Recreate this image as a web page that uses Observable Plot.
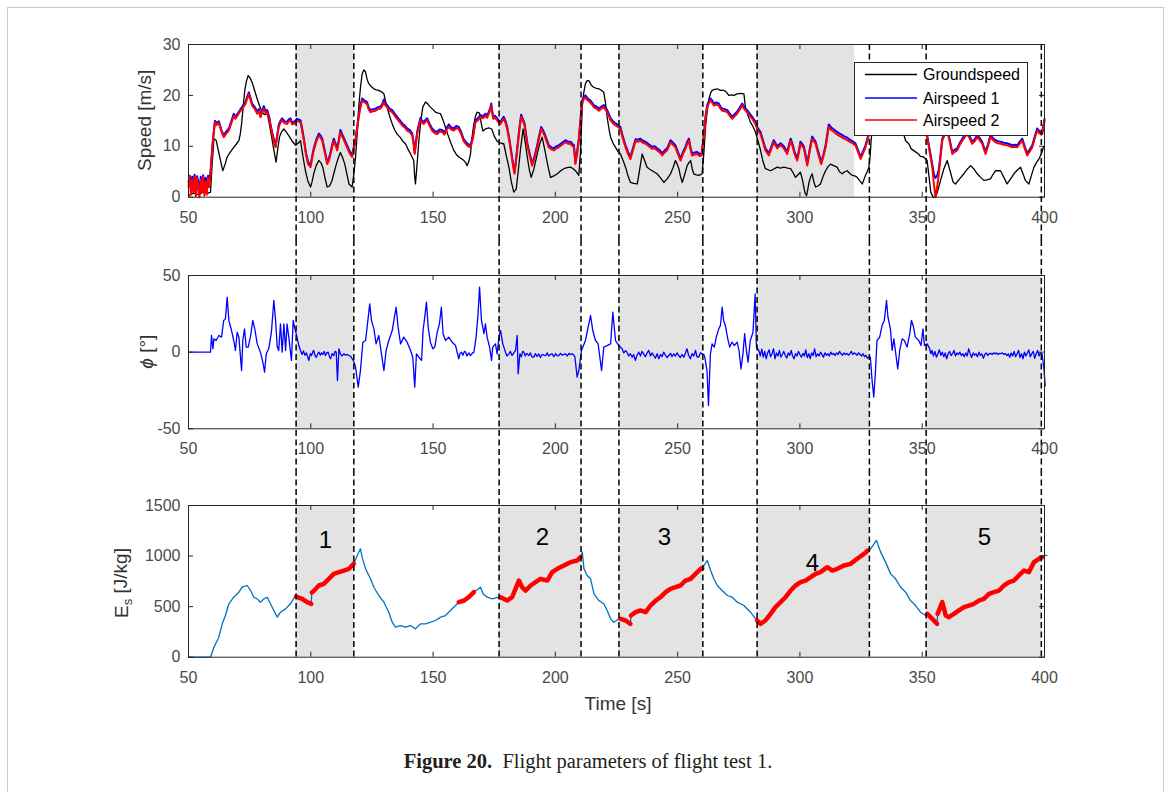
<!DOCTYPE html>
<html><head><meta charset="utf-8">
<script src="https://cdn.jsdelivr.net/npm/d3@7"></script>
<script src="https://cdn.jsdelivr.net/npm/@observablehq/plot@0.6"></script>
<style>
body{margin:0;background:#fff;}
#page{position:relative;width:1170px;height:792px;overflow:hidden;background:#fff;font-family:"Liberation Sans",Arial,sans-serif;}
.panel{position:absolute;left:0;}
#border{position:absolute;left:7px;top:7px;width:1155px;height:820px;border:1px solid #c9c9c9;}
#legend{position:absolute;left:854px;top:62px;}
#caption{position:absolute;left:0;top:750px;width:1176px;text-align:center;font-family:"Liberation Serif","Times New Roman",serif;font-size:20.5px;color:#231f20;white-space:nowrap;}
</style></head><body>
<div id="page">
  <div id="border"></div>
  <div id="p1" class="panel" style="top:0px"></div>
  <div id="p2" class="panel" style="top:240px"></div>
  <div id="p3" class="panel" style="top:470px"></div>
  <svg id="legend" width="174" height="74"></svg>
  <div id="caption"><b>Figure 20.</b>&nbsp; Flight parameters of flight test 1.</div>
</div>
<script>
// ---------- scales / ticks ----------
const xDomain = [50, 400];
const xTicks = [50, 100, 150, 200, 250, 300, 350, 400];
const speedDomain = [0, 30], speedTicks = [0, 10, 20, 30];
const rollDomain = [-50, 50], rollTicks = [-50, 0, 50];
const energyDomain = [0, 1500], energyTicks = [0, 500, 1000, 1500];

// ---------- manoeuvre intervals ----------
const eventStart = [94, 177, 226, 282.5, 351.6];
const eventEnd = [117.6, 210.5, 260.3, 328.4, 398.7];
const speedShadeStart = [94, 177, 226, 282.5];
const speedShadeEnd = [117.6, 210.5, 260.3, 322.3];
const segmentNumbers = ["1", "2", "3", "4", "5"];
const segmentLabelTime = [106, 194.7, 244.6, 305.1, 375.4];
const segmentLabelEnergy = [1154, 1184, 1184, 927, 1184];

// ---------- legend ----------
const seriesNames = ["Groundspeed", "Airspeed 1", "Airspeed 2"];
const seriesColors = ["#000000", "#0000ff", "#ff0000"];

// ---------- speed [m/s] ----------
const groundspeed = [[50,0.3],[52,0.8],[54,0.5],[56,1.0],[58,0.8],[59,1.0],[59.6,6.0],[60.4,11.5],[61.3,11.2],[62.5,8.5],[64.0,5.2],[65.0,6.5],[65.8,7.9],[67.0,8.8],[68.5,9.8],[69.5,10.4],[70.6,11.1],[71.2,12.5],[71.7,14.4],[72.4,18.0],[73.0,21.0],[73.7,22.8],[74.4,23.9],[75.2,23.4],[76.0,22.6],[77.0,21.0],[78.1,19.3],[79.0,18.0],[80.1,16.7],[81.2,16.2],[82.2,16.4],[83.0,14.5],[84.0,11.8],[85.0,9.0],[85.8,6.9],[86.5,9.5],[87.2,11.8],[88.0,12.8],[89.0,13.4],[90.0,12.8],[91.0,12.1],[92.4,11.0],[93.8,10.2],[94.8,10.6],[95.8,11.1],[96.8,8.0],[97.8,5.2],[98.8,3.2],[99.9,2.0],[100.5,3.0],[101.2,4.6],[102.2,6.2],[103.3,7.2],[104.1,6.8],[104.9,5.9],[105.8,3.8],[106.7,2.0],[107.7,2.2],[108.7,3.3],[109.4,4.6],[110.1,5.9],[111.1,7.5],[112.1,8.8],[113.0,7.8],[113.9,6.5],[114.8,4.5],[115.6,2.6],[116.9,2.0],[117.6,4.5],[118.3,7.9],[119.0,12.5],[119.6,17.7],[120.3,21.5],[121.0,24.2],[121.7,25.0],[122.4,24.6],[123.0,23.2],[123.7,22.3],[124.8,21.7],[125.8,21.3],[126.8,21.1],[127.8,21.0],[128.9,20.7],[129.9,20.3],[130.5,19.0],[131.2,17.7],[132.2,16.0],[133.3,14.4],[134.3,13.2],[135.3,12.4],[136.5,11.8],[137.6,11.0],[138.7,10.5],[139.8,9.4],[140.8,8.5],[141.5,7.8],[142.1,7.2],[142.5,4.0],[142.8,2.6],[143.3,5.5],[144.2,11.1],[145.0,15.0],[145.8,17.7],[146.9,18.7],[147.9,18.3],[148.9,17.7],[150.0,17.2],[151.0,16.7],[152.0,16.5],[153.0,16.4],[153.7,15.6],[154.4,14.7],[155.4,13.2],[156.4,11.8],[157.4,10.5],[158.5,9.2],[159.5,8.4],[160.5,7.9],[161.5,7.6],[162.6,7.2],[163.3,6.8],[163.9,6.2],[164.6,7.0],[165.3,8.5],[166.0,12.0],[166.7,14.4],[167.4,16.0],[168.0,16.7],[169.0,16.5],[169.7,14.5],[170.4,13.0],[171.4,13.4],[172.8,13.6],[174.0,13.4],[175.0,12.0],[176.2,11.0],[176.9,10.8],[177.8,10.6],[178.9,10.5],[180.0,8.0],[181.0,5.9],[182.0,3.0],[183.0,1.0],[184.0,1.6],[184.8,5.0],[185.7,9.2],[186.8,13.4],[187.6,11.0],[188.5,8.0],[189.3,5.5],[190.1,3.9],[191.2,5.5],[192.6,8.5],[193.6,10.5],[194.6,11.8],[195.6,9.5],[196.8,6.5],[198.0,3.9],[199.4,4.2],[200.8,4.6],[202.2,5.2],[203.5,5.6],[204.8,5.8],[206.2,5.9],[207.3,5.6],[208.2,5.2],[209.6,4.3],[210.3,9.0],[211.0,17.7],[211.6,20.5],[212.3,22.3],[213.0,22.9],[213.7,22.9],[214.7,22.0],[215.7,21.6],[216.8,21.4],[217.8,21.3],[218.8,21.0],[219.8,20.6],[220.5,18.5],[221.2,15.7],[222.0,13.2],[222.6,11.8],[223.6,10.6],[224.6,9.8],[225.6,9.0],[226.6,8.5],[227.7,7.2],[228.7,5.9],[229.7,4.2],[230.7,2.9],[232.0,2.7],[233.5,2.6],[234.5,5.5],[235.5,8.5],[236.5,7.2],[237.5,5.9],[238.6,5.5],[239.6,5.2],[240.6,4.9],[241.6,4.6],[243.0,3.8],[244.4,2.9],[245.7,3.6],[247.1,4.6],[248.1,5.8],[249.1,7.2],[249.8,6.5],[250.5,5.6],[251.2,4.0],[251.9,2.9],[252.9,4.5],[253.9,6.2],[254.6,6.8],[255.3,7.2],[256.0,5.5],[256.6,4.6],[257.6,4.4],[258.7,4.3],[260.0,4.6],[260.7,8.5],[261.4,13.8],[262.1,17.0],[262.8,19.3],[263.5,20.5],[264.1,21.0],[265.2,21.2],[266.2,21.3],[267.5,21.0],[268.9,21.0],[270.0,20.6],[270.9,20.0],[272.0,20.1],[273.0,20.0],[274.3,20.3],[275.7,20.4],[277.1,20.3],[277.7,17.7],[278.8,16.0],[279.8,14.7],[280.8,13.9],[281.8,12.8],[282.9,11.0],[283.9,9.2],[284.9,7.0],[285.9,5.6],[288.0,5.2],[290.7,5.9],[292.0,5.7],[293.4,5.9],[295.0,5.7],[296.2,5.6],[297.2,4.8],[298.2,3.9],[299.2,4.4],[300.2,4.9],[301.0,3.5],[301.6,2.0],[302.1,0.8],[302.7,0.3],[303.2,1.5],[303.7,2.9],[304.4,4.0],[305.0,4.6],[305.7,3.0],[306.4,2.0],[307.4,2.2],[308.4,2.6],[309.4,4.0],[310.5,5.2],[311.5,6.0],[312.5,6.5],[313.8,6.2],[315.2,5.9],[316.2,5.0],[317.3,4.6],[318.3,5.0],[319.3,5.2],[320.3,4.7],[321.4,4.3],[322.4,4.2],[323.4,3.9],[324.5,3.2],[325.5,2.6],[326.2,3.5],[326.8,4.3],[327.5,5.0],[328.2,5.9],[328.7,8.0],[329.1,11.1],[330.0,15.7],[331,18.0],[333,19.5],[336,19.0],[339,17.0],[341.5,14.0],[343.2,11.1],[344.5,10.5],[345.5,9.5],[347.0,9.0],[348.5,8.5],[349.3,8.0],[350.6,7.9],[352.0,7.2],[352.8,4.0],[353.5,1.0],[354.5,0.0],[355.5,0.0],[356.5,1.5],[357.5,3.3],[358.8,5.5],[360.2,7.2],[361.5,5.0],[362.6,3.0],[363.6,2.6],[365.3,3.6],[367.0,4.6],[368.4,5.5],[369.8,6.2],[371.2,5.5],[372.5,4.6],[373.9,3.9],[375.2,3.3],[376.5,3.4],[377.9,3.6],[379.0,4.5],[380.0,5.2],[382.0,5.2],[383.4,3.9],[384.7,2.6],[386.0,3.5],[387.5,4.6],[388.8,5.3],[390.2,5.9],[391.2,4.6],[392.2,3.3],[393.6,2.6],[394.6,4.2],[395.7,5.9],[396.7,6.8],[397.7,7.5],[398.7,8.5],[399.7,10.0]];

const airspeed1 = [[50,3.0],[50.5,4.2],[51,2.4],[51.5,4.0],[52,2.8],[52.5,4.4],[53,1.6],[53.5,4.1],[54,3.0],[54.5,0.6],[55,4.0],[55.5,2.6],[56,4.3],[56.5,2.0],[57,3.8],[57.5,2.2],[58,4.2],[58.5,3.2],[59,5.0],[60,11.4],[60.8,15.0],[61.5,14.6],[62.4,14.9],[63.4,13.3],[64.4,12.1],[65.4,12.9],[66.5,13.5],[67.5,14.9],[68.5,16.4],[69.2,15.8],[69.9,16.3],[70.6,16.8],[71.3,17.3],[72.3,18.0],[73.3,18.7],[74.0,19.8],[74.7,20.6],[75.3,19.6],[76.0,18.4],[77.0,17.8],[78.1,16.8],[78.8,17.3],[79.4,16.1],[80.1,17.0],[80.8,17.9],[81.5,16.9],[82.2,17.1],[83.0,15.8],[83.5,14.4],[84.5,12.1],[85.6,10.1],[86.3,12.3],[86.9,14.2],[87.6,15.0],[88.3,15.5],[89.3,14.9],[90.3,14.8],[91.0,15.3],[91.7,15.5],[92.4,14.7],[93.1,14.8],[94.4,15.4],[95.8,15.1],[96.5,13.4],[97.2,11.4],[98.0,8.8],[98.9,6.9],[99.9,6.3],[100.5,7.9],[101.2,9.6],[102.3,11.4],[103.3,12.5],[104.0,12.1],[104.7,11.5],[105.7,9.2],[106.7,6.9],[107.4,7.6],[108.1,8.9],[108.8,10.4],[109.4,11.5],[110.1,10.6],[110.8,9.6],[111.5,11.4],[112.1,13.2],[113.0,12.2],[114.2,10.9],[115.0,10.0],[116.0,8.9],[116.9,8.3],[117.6,9.9],[118.3,11.5],[119.0,13.9],[119.6,16.1],[120.3,18.0],[121.0,19.4],[122.0,19.0],[123.0,18.7],[123.7,17.6],[124.4,17.1],[125.5,17.3],[126.5,17.4],[127.5,17.7],[128.5,17.8],[129.2,18.3],[129.9,19.2],[130.5,18.4],[131.2,18.1],[132.2,17.4],[133.3,17.1],[134.3,16.4],[135.3,15.8],[136.3,15.2],[137.4,14.5],[138.4,14.1],[139.4,13.5],[140.5,13.2],[141.5,12.5],[142.0,10.9],[142.5,8.9],[143.0,10.9],[143.5,12.8],[144.2,14.4],[144.9,15.6],[145.5,15.0],[146.2,14.8],[146.9,15.2],[147.6,15.5],[148.6,14.4],[149.6,13.5],[150.6,13.0],[151.7,12.8],[152.7,13.3],[153.7,13.2],[154.7,12.7],[155.5,13.6],[156.4,14.3],[157.4,13.7],[158.5,13.5],[159.5,14.0],[160.5,13.8],[161.5,12.8],[162.5,11.4],[163.3,10.9],[164.3,10.4],[165.3,10.2],[166.3,11.9],[167.3,15.1],[168.3,15.5],[169.4,16.1],[170.4,15.9],[171.4,16.4],[172.1,16.0],[172.8,16.8],[173.3,17.4],[173.8,18.4],[174.2,16.9],[174.6,15.8],[175.4,16.0],[176.2,15.5],[176.9,15.0],[177.6,14.8],[178.3,15.4],[178.9,15.8],[179.6,15.0],[180.3,13.8],[181.2,11.4],[182.0,8.9],[182.7,6.6],[183.3,5.0],[183.8,6.9],[184.4,9.6],[185.2,13.2],[186.0,16.2],[186.7,15.4],[187.4,14.5],[188.0,12.4],[188.7,10.2],[189.6,8.4],[190.5,6.6],[191.4,7.9],[192.3,9.6],[193.2,11.7],[194.2,13.8],[194.9,13.2],[195.6,12.5],[196.4,11.4],[197.3,10.2],[198.4,9.8],[199.4,9.6],[200.4,10.0],[201.4,10.2],[202.7,10.7],[204.1,11.2],[205.1,10.9],[206.2,10.9],[206.9,10.5],[207.6,10.2],[208.2,6.9],[208.9,8.9],[209.6,11.5],[210.3,15.4],[211.0,19.1],[211.6,19.6],[212.3,20.0],[213.2,19.4],[214.1,19.1],[215.0,18.6],[215.7,18.1],[216.8,17.8],[217.8,17.4],[218.8,17.8],[219.8,18.1],[220.5,17.6],[221.2,17.1],[222.0,16.2],[222.6,15.5],[223.6,14.9],[224.6,14.5],[225.6,14.2],[226.6,13.8],[227.6,11.9],[228.7,10.2],[229.7,8.9],[230.7,7.9],[231.7,9.6],[232.8,11.4],[233.8,11.3],[234.8,11.5],[235.8,11.1],[236.9,10.9],[238.2,10.4],[239.6,9.9],[240.6,10.0],[241.6,9.6],[242.7,9.2],[243.7,8.6],[244.7,9.2],[245.7,9.6],[246.4,10.4],[247.1,11.2],[248.1,10.7],[249.1,10.2],[250.1,8.9],[251.2,7.6],[252.2,8.9],[253.2,9.9],[253.9,10.9],[254.6,11.5],[255.2,9.9],[255.9,8.6],[257.0,8.8],[258.0,8.9],[259.0,8.5],[259.8,8.6],[260.7,12.2],[261.4,15.9],[262.1,18.1],[262.8,18.9],[263.4,19.4],[264.1,19.0],[264.8,18.4],[265.8,18.6],[266.8,18.4],[267.5,17.8],[268.2,17.4],[269.2,17.3],[270.3,17.1],[271.3,16.4],[272.3,15.8],[273.3,16.3],[274.3,16.8],[275.4,17.6],[276.4,18.4],[277.4,17.6],[278.4,17.1],[279.5,16.4],[280.5,15.8],[281.8,14.8],[282.5,13.8],[283.9,12.8],[284.9,11.2],[285.9,9.6],[287.3,8.6],[288.3,9.9],[289.3,11.2],[290.7,10.0],[292.1,10.6],[293.4,10.0],[294.8,8.9],[295.5,10.2],[296.2,11.5],[297.0,10.4],[297.8,8.9],[298.9,7.6],[299.6,9.2],[300.2,10.9],[301.6,10.0],[302.3,8.4],[303.0,6.6],[304.0,9.4],[305.0,11.9],[306.4,10.9],[307.5,8.9],[308.7,6.9],[309.6,8.4],[310.5,10.2],[311.8,14.3],[312.8,13.7],[313.9,13.3],[315.0,12.9],[315.9,12.6],[317.0,12.3],[318.0,12.0],[319.3,11.7],[320.7,11.2],[321.7,10.9],[322.7,10.6],[323.8,9.2],[324.8,7.9],[325.8,9.0],[326.8,10.2],[327.8,11.9],[328.9,13.9],[330,15.9],[332,16.4],[335,15.4],[338,14.4],[341,15.4],[344,14.4],[347,13.9],[350,13.4],[351.2,13.0],[352.0,12.2],[353.0,9.5],[354.1,6.5],[354.8,4.5],[355.4,3.8],[356.1,4.2],[356.8,5.5],[357.5,8.4],[358.2,11.5],[359.2,12.6],[360.2,13.5],[361.2,11.4],[362.3,8.9],[363.3,9.3],[364.3,9.6],[365.3,10.6],[366.4,11.5],[367.4,12.2],[368.4,12.8],[369.4,12.0],[370.4,10.9],[371.5,11.4],[372.5,12.2],[373.5,11.6],[374.5,10.9],[375.2,9.9],[375.9,8.9],[376.9,10.4],[377.9,12.2],[379.0,11.6],[380.0,11.2],[381.0,11.0],[382.0,10.9],[383.4,10.7],[384.7,10.6],[385.8,10.4],[386.8,10.2],[387.8,10.3],[388.8,10.2],[389.9,10.9],[390.9,11.5],[391.9,10.0],[392.9,8.6],[394.0,9.4],[395.0,10.2],[396.0,11.9],[397.0,13.5],[398.0,12.9],[399.1,12.8],[400.0,15.4]];

const airspeed2 = [[50,2.0],[50.5,4.0],[51,0.5],[51.5,3.5],[52,1.0],[52.5,4.0],[53,0.2],[53.5,3.8],[54,1.5],[54.5,0.0],[55,3.5],[55.5,1.0],[56,4.0],[56.5,0.3],[57,3.0],[57.5,0.5],[58,3.8],[58.5,2.0],[59,4.6],[60,11.1],[60.8,14.7],[61.5,14.2],[62.4,14.6],[63.4,13.0],[64.4,11.8],[65.4,12.5],[66.5,13.1],[67.5,14.5],[68.5,16.0],[69.2,15.4],[69.9,15.9],[70.6,16.5],[71.3,17.0],[72.3,17.6],[73.3,18.3],[74.0,19.4],[74.7,20.3],[75.3,19.2],[76.0,18.0],[77.0,17.4],[78.1,16.4],[78.8,16.9],[79.4,15.7],[80.1,16.6],[80.8,17.4],[81.5,16.5],[82.2,16.7],[83.0,15.5],[83.5,14.1],[84.5,11.8],[85.6,9.8],[86.3,12.0],[86.9,13.8],[87.6,14.6],[88.3,15.1],[89.3,14.5],[90.3,14.4],[91.0,14.9],[91.7,15.1],[92.4,14.3],[93.1,14.4],[94.4,15.0],[95.8,14.7],[96.5,13.0],[97.2,11.1],[98.0,8.5],[98.9,6.5],[99.9,5.9],[100.5,7.5],[101.2,9.2],[102.3,11.0],[103.3,12.1],[104.0,11.7],[104.7,11.1],[105.7,8.8],[106.7,6.5],[107.4,7.2],[108.1,8.5],[108.8,10.0],[109.4,11.1],[110.1,10.2],[110.8,9.2],[111.5,11.0],[112.1,12.8],[113.0,11.8],[114.2,10.5],[115.0,9.6],[116.0,8.5],[116.9,7.9],[117.6,9.5],[118.3,11.1],[119.0,13.5],[119.6,15.7],[120.3,17.6],[121.0,19.0],[122.0,18.6],[123.0,18.3],[123.7,17.2],[124.4,16.7],[125.5,16.9],[126.5,17.0],[127.5,17.3],[128.5,17.4],[129.2,17.9],[129.9,18.7],[130.5,18.0],[131.2,17.7],[132.2,17.0],[133.3,16.7],[134.3,16.0],[135.3,15.4],[136.3,14.8],[137.4,14.1],[138.4,13.7],[139.4,13.1],[140.5,12.8],[141.5,12.1],[142.0,10.5],[142.5,8.5],[143.0,10.5],[143.5,12.4],[144.2,14.0],[144.9,15.1],[145.5,14.6],[146.2,14.4],[146.9,14.8],[147.6,15.1],[148.6,14.0],[149.6,13.1],[150.6,12.6],[151.7,12.4],[152.7,12.9],[153.7,12.8],[154.7,12.3],[155.5,13.2],[156.4,13.8],[157.4,13.3],[158.5,13.1],[159.5,13.6],[160.5,13.4],[161.5,12.4],[162.5,11.0],[163.3,10.5],[164.3,10.0],[165.3,9.8],[166.3,11.5],[167.3,14.7],[168.3,15.1],[169.4,15.7],[170.4,15.5],[171.4,16.0],[172.1,15.6],[172.8,16.4],[173.3,17.0],[173.8,18.0],[174.2,16.5],[174.6,15.4],[175.4,15.6],[176.2,15.1],[176.9,14.6],[177.6,14.4],[178.3,15.0],[178.9,15.4],[179.6,14.6],[180.3,13.4],[181.2,11.0],[182.0,8.5],[182.7,6.2],[183.3,4.6],[183.8,6.5],[184.4,9.2],[185.2,12.8],[186.0,15.8],[186.7,15.0],[187.4,14.1],[188.0,12.0],[188.7,9.8],[189.6,8.0],[190.5,6.2],[191.4,7.5],[192.3,9.2],[193.2,11.3],[194.2,13.4],[194.9,12.8],[195.6,12.1],[196.4,11.0],[197.3,9.8],[198.4,9.4],[199.4,9.2],[200.4,9.6],[201.4,9.8],[202.7,10.3],[204.1,10.8],[205.1,10.5],[206.2,10.5],[206.9,10.1],[207.6,9.8],[208.2,6.5],[208.9,8.5],[209.6,11.1],[210.3,15.0],[211.0,18.7],[211.6,19.2],[212.3,19.6],[213.2,19.0],[214.1,18.7],[215.0,18.2],[215.7,17.7],[216.8,17.4],[217.8,17.0],[218.8,17.4],[219.8,17.7],[220.5,17.2],[221.2,16.7],[222.0,15.8],[222.6,15.1],[223.6,14.5],[224.6,14.1],[225.6,13.8],[226.6,13.4],[227.6,11.5],[228.7,9.8],[229.7,8.5],[230.7,7.5],[231.7,9.2],[232.8,11.0],[233.8,10.9],[234.8,11.1],[235.8,10.7],[236.9,10.5],[238.2,10.0],[239.6,9.5],[240.6,9.6],[241.6,9.2],[242.7,8.8],[243.7,8.2],[244.7,8.8],[245.7,9.2],[246.4,10.0],[247.1,10.8],[248.1,10.3],[249.1,9.8],[250.1,8.5],[251.2,7.2],[252.2,8.5],[253.2,9.5],[253.9,10.5],[254.6,11.1],[255.2,9.5],[255.9,8.2],[257.0,8.4],[258.0,8.5],[259.0,8.1],[259.8,8.2],[260.7,11.8],[261.4,15.5],[262.1,17.7],[262.8,18.5],[263.4,19.0],[264.1,18.6],[264.8,18.0],[265.8,18.2],[266.8,18.0],[267.5,17.4],[268.2,17.0],[269.2,16.9],[270.3,16.7],[271.3,16.0],[272.3,15.4],[273.3,15.9],[274.3,16.4],[275.4,17.2],[276.4,18.0],[277.4,17.2],[278.4,16.7],[279.5,16.0],[280.5,15.4],[281.8,14.4],[282.5,13.4],[283.9,12.4],[284.9,10.8],[285.9,9.2],[287.3,8.2],[288.3,9.5],[289.3,10.8],[290.7,9.6],[292.1,10.2],[293.4,9.6],[294.8,8.5],[295.5,9.8],[296.2,11.1],[297.0,10.0],[297.8,8.5],[298.9,7.2],[299.6,8.8],[300.2,10.5],[301.6,9.6],[302.3,8.0],[303.0,6.2],[304.0,9.0],[305.0,11.5],[306.4,10.5],[307.5,8.5],[308.7,6.5],[309.6,8.0],[310.5,9.8],[311.8,13.8],[312.8,13.2],[313.9,12.8],[315.0,12.4],[315.9,12.1],[317.0,11.8],[318.0,11.5],[319.3,11.2],[320.7,10.8],[321.7,10.5],[322.7,10.2],[323.8,8.8],[324.8,7.5],[325.8,8.6],[326.8,9.8],[327.8,11.5],[328.9,13.5],[330,15.5],[332,16.0],[335,15.0],[338,14.0],[341,15.0],[344,14.0],[347,13.5],[350,13.0],[351.2,12.6],[352.0,11.8],[353.0,9.0],[354.1,5.9],[354.8,2.5],[355.4,0.0],[356.1,2.0],[356.8,4.6],[357.5,8.0],[358.2,11.1],[359.2,12.2],[360.2,13.1],[361.2,11.0],[362.3,8.5],[363.3,8.9],[364.3,9.2],[365.3,10.2],[366.4,11.1],[367.4,11.8],[368.4,12.4],[369.4,11.6],[370.4,10.5],[371.5,11.0],[372.5,11.8],[373.5,11.2],[374.5,10.5],[375.2,9.5],[375.9,8.5],[376.9,10.0],[377.9,11.8],[379.0,11.2],[380.0,10.8],[381.0,10.6],[382.0,10.5],[383.4,10.3],[384.7,10.2],[385.8,10.0],[386.8,9.8],[387.8,9.9],[388.8,9.8],[389.9,10.5],[390.9,11.1],[391.9,9.6],[392.9,8.2],[394.0,9.0],[395.0,9.8],[396.0,11.5],[397.0,13.1],[398.0,12.5],[399.1,12.4],[400.0,15.0]];

// ---------- roll angle phi [deg] ----------
const rollAngle = [[50,0],[55,0],[59.0,0],[59.4,10.9],[60.0,2.2],[60.4,8.7],[61.3,7.6],[62.4,10.9],[63.5,9.8],[64.4,20.7],[65.1,21.7],[65.8,35.9],[66.5,20.7],[67.6,14.1],[68.5,7.6],[69.2,1.1],[69.9,13.0],[70.6,9.8],[71.7,-12.0],[72.2,7.6],[72.9,15.2],[73.6,3.3],[74.4,3.3],[75.3,9.8],[76.3,20.7],[77.1,15.2],[78.1,5.4],[79.4,0],[80.4,-6.5],[81.1,-13.0],[81.8,-1.1],[82.8,2.2],[83.9,13.0],[84.9,33.7],[85.6,20.7],[86.3,3.3],[86.9,1.1],[87.6,18.5],[88.3,0],[89.0,18.5],[89.7,1.1],[90.3,18.5],[91.0,9.8],[92.1,-5.4],[92.8,20.7],[93.5,15.2],[94.2,10.9],[95.1,4.3],[95.8,1.1],[96.4,-1.5],[97.0,0.8],[97.6,-2.0],[98.2,-0.5],[98.8,-3.5],[99.2,-5.4],[99.8,-1.0],[100.3,-2.2],[100.9,0.5],[101.2,1.1],[101.8,-2.5],[102.3,-3.3],[102.9,-0.8],[103.3,0],[103.9,-2.0],[104.4,-0.5],[104.9,-1.5],[105.5,0.5],[106.0,-2.2],[106.6,-0.3],[107.1,0],[107.6,-2.8],[108.1,-4.3],[108.7,-1.0],[109.4,-2.2],[109.9,0.5],[110.4,0],[110.9,-18.5],[111.5,2.2],[112.1,-1.1],[112.7,-2.5],[113.5,-1.1],[114.2,-2.0],[114.9,-1.5],[115.6,-2.2],[116.3,-2.8],[116.9,-4.3],[117.6,-6.0],[118.3,-9.8],[119.4,-22.8],[120.3,-12.0],[121.3,6.5],[122.4,7.6],[123.5,22.8],[124.1,31.5],[124.8,20.7],[125.8,15.2],[126.7,5.4],[127.8,10.9],[128.9,-1.1],[129.9,-12.0],[130.8,1.1],[131.9,7.6],[133.3,14.1],[134.2,22.8],[134.9,29.3],[135.7,16.3],[136.7,5.4],[138.0,9.8],[139.4,6.5],[140.8,1.1],[141.7,-3.3],[142.5,-22.8],[143.2,-1.1],[144.2,-3.3],[145.3,-5.4],[145.9,14.1],[146.6,22.8],[147.3,32.6],[148.0,16.3],[148.9,6.5],[149.9,2.2],[150.7,3.3],[151.7,13.0],[152.6,18.5],[153.4,29.3],[154.1,12.0],[155.1,7.6],[156.4,9.8],[157.8,6.5],[159.2,4.3],[160.5,-4.3],[161.0,-1.0],[161.6,0],[162.2,-2.0],[162.8,0.5],[163.3,0],[163.9,-2.5],[164.6,-0.5],[165.3,-2.2],[166.0,-0.8],[166.7,0],[167.6,9.8],[168.4,25.0],[169.0,42.4],[169.8,20.7],[170.8,12.0],[171.4,18.5],[172.1,9.8],[173.1,3.3],[173.9,-5.4],[174.4,3.3],[175.5,5.4],[176.2,-1.1],[176.9,9.8],[177.6,14.1],[178.5,5.4],[179.6,0],[180.2,-2.5],[181.0,-1.1],[181.6,0.5],[182.3,-2.2],[183.0,-0.5],[183.7,1.1],[184.4,10.9],[184.8,-14.1],[185.5,-1.1],[186.1,-3.0],[186.6,0.5],[187.1,0],[187.7,-2.5],[188.3,-0.8],[189.2,-2.2],[189.8,-0.5],[190.4,-3.0],[191.2,-3.3],[191.8,-1.0],[192.5,-2.8],[193.2,-1.1],[193.9,-3.5],[194.6,-1.5],[195.3,-2.0],[196.0,-2.2],[196.7,-0.5],[197.3,-2.5],[198.0,-1.5],[198.7,-1.1],[199.4,-3.0],[200.1,-1.0],[200.8,-2.5],[201.4,-2.2],[202.1,-0.8],[202.8,-2.0],[203.5,-1.5],[204.2,-1.1],[204.9,-2.5],[205.6,-0.8],[206.2,-1.5],[206.9,-1.1],[207.5,-1.8],[208.0,-3.3],[208.9,-16.3],[209.6,-12.0],[210.7,1.1],[212.3,7.6],[213.4,16.3],[214.4,23.9],[215.3,14.1],[216.4,7.6],[217.5,5.4],[218.9,-12.0],[219.8,3.3],[221.2,4.3],[222.6,5.4],[223.5,26.1],[224.6,7.6],[225.9,4.3],[227.3,2.2],[228.0,-0.5],[228.7,1.0],[229.3,0],[230.0,-2.5],[230.7,-1.0],[231.4,-3.3],[232.0,-1.5],[232.7,-5.4],[233.4,-2.0],[234.1,0],[234.8,-2.5],[235.4,0.5],[236.1,-1.1],[236.8,-3.0],[237.5,-0.5],[238.2,1.1],[238.9,-2.5],[239.5,-0.5],[240.2,-2.2],[240.9,-4.0],[241.6,-1.0],[242.3,-4.3],[243.0,-1.5],[243.6,-3.0],[244.3,0],[245.0,-2.0],[245.7,-3.5],[246.4,-2.2],[247.1,-0.8],[247.7,-3.0],[248.4,-1.1],[249.1,-2.5],[249.8,-0.5],[250.4,-2.2],[251.1,-3.5],[251.8,-1.5],[252.5,-3.3],[253.2,-0.5],[253.8,2.2],[254.5,-2.0],[255.2,-4.3],[255.9,-1.0],[256.6,-2.5],[257.3,1.1],[257.9,-3.0],[258.6,-3.3],[259.3,-0.5],[260.0,-1.1],[260.7,-1.5],[261.1,-3.3],[262.0,-12.0],[262.6,-34.8],[263.4,-1.1],[264.1,5.4],[265.0,3.3],[265.8,9.8],[266.8,15.2],[267.5,17.4],[268.2,29.3],[268.8,20.7],[269.5,17.4],[270.5,8.7],[271.3,3.3],[272.2,6.5],[273.2,4.3],[274.3,6.5],[275.1,1.1],[275.9,-10.9],[276.7,-1.1],[277.4,12.0],[278.1,1.1],[278.8,-6.5],[279.7,7.6],[280.8,13.0],[281.7,38.0],[282.2,3.3],[283.2,1.1],[283.8,-2.5],[284.4,2.0],[285.0,-3.3],[285.6,0.5],[286.2,-4.3],[286.8,-0.5],[287.4,1.5],[288.0,-3.0],[288.6,-1.0],[289.2,2.2],[289.8,-4.3],[290.4,-0.5],[291.0,-2.5],[291.6,1.1],[292.2,-3.3],[292.8,-1.5],[293.4,0.5],[294.0,-2.0],[294.6,-3.8],[295.2,-0.5],[295.8,-2.2],[296.4,1.1],[297.0,-2.5],[297.6,-4.3],[298.2,-1.0],[298.8,-2.5],[299.4,0.5],[300.0,-1.5],[300.6,-3.3],[301.2,-0.8],[301.8,-2.5],[302.4,1.5],[303.0,-3.5],[303.6,-1.0],[304.2,-4.3],[304.8,-0.5],[305.4,-2.2],[306.0,2.2],[306.6,-3.0],[307.2,-1.1],[307.8,-2.5],[308.4,0],[309.0,-1.5],[309.6,-3.3],[310.2,-0.5],[310.8,-2.0],[311.4,-1.0],[312.0,-2.5],[312.6,0],[313.2,-1.5],[313.8,-0.8],[314.4,-2.2],[315.0,-0.5],[315.6,-1.5],[316.2,0.5],[316.8,-1.1],[317.4,-2.0],[318.0,-0.5],[318.6,-1.5],[319.2,-0.8],[319.8,-2.0],[320.4,-1.0],[321.0,0.5],[321.6,-1.5],[322.2,-0.5],[322.8,-1.1],[323.4,-2.0],[324.0,-0.5],[324.6,-1.5],[325.2,-2.5],[325.8,-1.0],[326.4,-3.0],[327.0,-2.0],[327.6,-4.0],[328.1,-3.3],[328.8,-3.3],[329.5,-18.5],[330.2,-29.3],[330.9,-12.0],[331.5,7.6],[332.6,9.8],[333.6,17.4],[334.5,20.7],[335.4,33.7],[336.0,22.8],[337.0,15.2],[337.7,1.1],[338.4,8.7],[339.2,-1.1],[340.0,-10.9],[340.8,1.1],[341.8,8.7],[342.7,7.6],[343.8,3.3],[344.9,12.0],[345.6,20.7],[346.3,17.4],[347.2,9.8],[348.6,7.6],[349.5,4.3],[350.3,15.2],[350.9,4.3],[352.0,5.4],[353.0,2.5],[353.5,-1.0],[354.0,1.1],[354.6,-2.5],[355.2,0.5],[355.8,-3.3],[356.4,-1.0],[357.0,1.5],[357.6,-2.0],[358.2,0],[358.8,-3.0],[359.4,-0.5],[360.0,-4.3],[360.6,-1.1],[361.2,0.5],[361.8,-2.2],[362.4,-1.0],[363.0,1.1],[363.6,-2.5],[364.2,-0.5],[364.8,-1.5],[365.4,0],[366.0,-2.2],[366.6,-1.0],[367.2,-3.0],[367.8,-0.5],[368.4,-2.5],[369.0,2.2],[369.6,-1.0],[370.2,-3.5],[370.8,-0.5],[371.4,-2.0],[372.0,-1.0],[372.6,-3.0],[373.2,0],[373.8,-2.2],[374.4,-1.1],[375.0,-4.0],[375.6,-1.5],[376.2,-0.5],[376.8,-2.2],[377.4,-1.0],[378.0,-0.8],[378.6,-1.5],[379.2,-0.5],[379.8,-1.1],[380.4,-0.5],[381.0,-1.5],[381.6,-0.8],[382.2,-1.0],[382.8,-0.5],[383.4,-1.5],[384.0,-1.0],[384.6,-2.2],[385.2,-1.1],[385.8,-3.3],[386.4,-0.5],[387.0,-2.5],[387.6,0.5],[388.2,-3.0],[388.8,-1.0],[389.4,1.1],[390.0,-3.5],[390.6,-1.0],[391.2,-4.3],[391.8,0],[392.4,-2.5],[393.0,-0.5],[393.6,1.5],[394.2,-3.0],[394.8,-1.0],[395.4,0.5],[396.0,-4.0],[396.6,-1.0],[397.2,1.1],[397.8,-2.5],[398.3,-0.5],[399.0,-1.1],[399.7,-9.8],[400.3,-22.0]];

// ---------- specific energy Es [J/kg] ----------
const energy = [[50,0],[55,0],[59,0],[60.4,99],[62.4,198],[63.8,330],[65.1,412],[66.5,528],[68.5,593],[70.6,643],[71.9,692],[74.0,709],[75.4,659],[76.7,593],[78.1,577],[79.4,544],[80.8,577],[82.2,593],[83.5,528],[84.9,462],[86.3,396],[87.6,445],[89.7,478],[91.7,528],[93.3,593],[94.0,600],[95.0,590],[96.5,577],[98.5,544],[100.2,528],[100.4,640],[101.2,655],[103.3,709],[105.3,725],[107.4,775],[109.4,824],[111.5,841],[113.5,857],[115.6,874],[116.9,907],[117.6,925],[119.0,1006],[120.3,1072],[121.0,989],[122.4,874],[124.4,775],[125.8,692],[127.8,610],[129.9,544],[131.9,445],[133.3,346],[134.6,297],[136.7,313],[138.7,297],[140.8,313],[142.8,280],[144.9,330],[146.9,330],[149.0,346],[151.0,363],[153.1,396],[155.1,412],[157.1,462],[159.2,511],[160.5,544],[162.6,560],[164.6,593],[166.7,643],[169.4,692],[170.5,626],[172.1,593],[174.2,577],[176.9,593],[177.6,593],[180.3,560],[182.3,593],[183.7,676],[185.1,758],[186.4,692],[187.8,659],[189.9,709],[191.9,742],[193.9,775],[196.7,758],[198.7,841],[200.8,874],[203.5,907],[206.2,940],[208.9,956],[210.3,989],[211.0,1039],[211.7,874],[213.0,808],[214.4,775],[215.8,626],[217.8,560],[219.8,528],[221.2,462],[222.6,379],[223.9,346],[226.0,379],[226.7,379],[228.7,363],[230.7,330],[230.9,412],[232.8,445],[234.8,462],[236.9,445],[238.9,511],[241.0,560],[243.0,593],[245.1,643],[247.1,676],[249.1,692],[251.2,709],[253.2,758],[255.3,775],[257.3,824],[259.4,874],[260.1,880],[262.1,956],[263.5,857],[264.8,775],[266.2,709],[268.2,659],[270.3,610],[272.3,593],[274.4,544],[277.1,511],[279.8,445],[281.9,379],[282.5,363],[283.9,330],[285.9,363],[288.0,429],[290.0,495],[292.1,544],[294.1,593],[296.2,659],[298.2,709],[300.3,742],[302.3,758],[304.4,791],[306.4,824],[308.4,841],[311.2,890],[313.2,857],[315.3,874],[318.0,907],[320.7,923],[323.4,973],[326.2,1022],[327.8,1055],[328.9,1072],[331.3,1154],[333.0,1039],[335.0,940],[337.1,824],[339.1,775],[341.2,692],[343.2,643],[345.2,560],[347.3,511],[349.3,445],[351.4,412],[352.1,429],[354.1,379],[356.1,330],[356.3,429],[358.2,544],[359.6,412],[360.9,396],[363.0,429],[365.0,462],[367.1,495],[369.1,511],[371.1,528],[373.2,560],[375.2,577],[377.3,626],[379.3,643],[381.4,659],[383.4,709],[385.5,742],[387.5,758],[389.5,808],[391.6,857],[393.6,841],[395.7,940],[397.7,973],[399.1,989],[399.8,1006],[401,1006]];

// highlighted (steady-manoeuvre) energy pieces: [piece, t, Es]
const energyHighlight = [
[1,94.0,600],[1,95.0,590],[1,96.5,577],[1,98.5,544],[1,100.2,528],
[2,100.4,640],[2,101.2,655],[2,103.3,709],[2,105.3,725],[2,107.4,775],[2,109.4,824],[2,111.5,841],[2,113.5,857],[2,115.6,874],[2,116.9,907],[2,117.6,925],
[3,160.5,544],[3,162.6,560],[3,164.6,593],[3,166.7,643],
[4,177.6,593],[4,180.3,560],[4,182.3,593],[4,183.7,676],[4,185.1,758],[4,186.4,692],[4,187.8,659],[4,189.9,709],[4,191.9,742],[4,193.9,775],[4,196.7,758],[4,198.7,841],[4,200.8,874],[4,203.5,907],[4,206.2,940],[4,208.9,956],[4,210.3,989],
[5,226.7,379],[5,228.7,363],[5,230.7,330],
[6,230.9,412],[6,232.8,445],[6,234.8,462],[6,236.9,445],[6,238.9,511],[6,241.0,560],[6,243.0,593],[6,245.1,643],[6,247.1,676],[6,249.1,692],[6,251.2,709],[6,253.2,758],[6,255.3,775],[6,257.3,824],[6,259.4,874],[6,260.1,880],
[7,282.5,363],[7,283.9,330],[7,285.9,363],[7,288.0,429],[7,290.0,495],[7,292.1,544],[7,294.1,593],[7,296.2,659],[7,298.2,709],[7,300.3,742],[7,302.3,758],[7,304.4,791],[7,306.4,824],[7,308.4,841],[7,311.2,890],[7,313.2,857],[7,315.3,874],[7,318.0,907],[7,320.7,923],[7,323.4,973],[7,326.2,1022],[7,327.8,1055],
[8,352.1,429],[8,354.1,379],[8,356.1,330],
[9,356.3,429],[9,358.2,544],[9,359.6,412],[9,360.9,396],[9,363.0,429],[9,365.0,462],[9,367.1,495],[9,369.1,511],[9,371.1,528],[9,373.2,560],[9,375.2,577],[9,377.3,626],[9,379.3,643],[9,381.4,659],[9,383.4,709],[9,385.5,742],[9,387.5,758],[9,389.5,808],[9,391.6,857],[9,393.6,841],[9,395.7,940],[9,397.7,973],[9,399.1,989]
];

// ---------- layout ----------
const W = 1170, ML = 188, MR = 126;
const axisColor = "#262626";
const tickTextColor = "#4a4a4a";
const font = "Liberation Sans, Arial, sans-serif";

function makePanel({height, top, bottom, yDomain, yTicks, marks, shadeStart, shadeEnd, dashUp, dashDown}) {
  const plotH = height - top - bottom, plotW = W - ML - MR;
  const shade = shadeStart.map((s, i) => ({s, e: shadeEnd[i]}));
  const cuts = eventStart.concat(eventEnd);
  return Plot.plot({
    width: W, height,
    marginLeft: ML, marginRight: MR, marginTop: top, marginBottom: bottom,
    x: {domain: xDomain},
    y: {domain: yDomain},
    style: {fontFamily: font, fontSize: "16px", color: axisColor, background: "transparent", overflow: "visible"},
    marks: [
      Plot.rect(shade, {x1: "s", x2: "e", y1: yDomain[0], y2: yDomain[1], fill: "#e3e3e3"}),
      ...marks,
      Plot.ruleX(xTicks, {insetTop: plotH - 5, stroke: axisColor}),
      Plot.ruleX(xTicks, {insetBottom: plotH - 5, stroke: axisColor}),
      Plot.ruleY(yTicks, {insetRight: plotW - 5, stroke: axisColor}),
      Plot.ruleY(yTicks, {insetLeft: plotW - 5, stroke: axisColor}),
      Plot.frame({stroke: axisColor, strokeWidth: 1}),
      Plot.ruleX(cuts, {insetTop: -dashUp, insetBottom: -dashDown, stroke: "#000", strokeWidth: 1.5, strokeDasharray: "6,3.5"}),
      Plot.axisX({ticks: xTicks, tickSize: 0, tickPadding: 14, tickFormat: d => String(d), label: null, fill: tickTextColor}),
      Plot.axisY({ticks: yTicks, tickSize: 0, tickPadding: 8, tickFormat: d => String(d), label: null, fill: tickTextColor})
    ]
  });
}

const X = d => d[0], Y = d => d[1];

const p1 = makePanel({
  height: 240, top: 44, bottom: 43.3, yDomain: speedDomain, yTicks: speedTicks,
  shadeStart: speedShadeStart, shadeEnd: speedShadeEnd, dashUp: 0, dashDown: 43.3,
  marks: [
    Plot.line(groundspeed, {x: X, y: Y, stroke: seriesColors[0], strokeWidth: 1.3}),
    Plot.line(airspeed1, {x: X, y: Y, stroke: seriesColors[1], strokeWidth: 2}),
    Plot.line(airspeed2, {x: X, y: Y, stroke: seriesColors[2], strokeWidth: 2})
  ]
});
const p2 = makePanel({
  height: 230, top: 35, bottom: 41.7, yDomain: rollDomain, yTicks: rollTicks,
  shadeStart: eventStart, shadeEnd: eventEnd, dashUp: 35, dashDown: 41.7,
  marks: [
    Plot.line(rollAngle, {x: X, y: Y, stroke: "#0000ff", strokeWidth: 1.3})
  ]
});
const p3 = makePanel({
  height: 250, top: 35, bottom: 63.3, yDomain: energyDomain, yTicks: energyTicks,
  shadeStart: eventStart, shadeEnd: eventEnd, dashUp: 35, dashDown: 0,
  marks: [
    Plot.line(energy, {x: X, y: Y, stroke: "#0072bd", strokeWidth: 1.3}),
    Plot.line(energyHighlight, {x: d => d[1], y: d => d[2], z: d => d[0], stroke: "#ff0000", strokeWidth: 4.5, strokeLinecap: "round", strokeLinejoin: "round"}),
    Plot.text(segmentNumbers, {x: (d, i) => segmentLabelTime[i], y: (d, i) => segmentLabelEnergy[i], text: d => d, fontSize: 24, fill: "#000", fontFamily: font})
  ]
});

document.getElementById("p1").appendChild(p1);
document.getElementById("p2").appendChild(p2);
document.getElementById("p3").appendChild(p3);

// axis titles
function title(svg, x, y, rotate, size) {
  return d3.select(svg).append("text")
    .attr("transform", `translate(${x},${y}) rotate(${rotate})`)
    .attr("text-anchor", "middle").attr("dy", "0.35em")
    .attr("font-family", font).attr("font-size", size).attr("fill", "#333");
}
title(p1, 144, 120.3, -90, 19).text("Speed [m/s]");
const phiT = title(p2, 146, 111.7, -90, 19);
phiT.append("tspan").attr("font-style", "italic").text("ϕ");
phiT.append("tspan").text(" [°]");
const esT = title(p3, 121, 113, -90, 19);
esT.append("tspan").text("E");
esT.append("tspan").attr("dy", "0.35em").attr("font-size", 13).text("s");
esT.append("tspan").attr("dy", "-0.25em").text(" [J/kg]");
title(p3, 618, 233, 0, 19).text("Time [s]");

// legend
const lg = d3.select("#legend");
lg.append("rect").attr("x", 0.5).attr("y", 0.5).attr("width", 173).attr("height", 73)
  .attr("fill", "#fff").attr("stroke", axisColor);
const rowY = [12.5, 36, 58];
seriesNames.forEach((name, i) => {
  lg.append("line").attr("x1", 11).attr("x2", 63).attr("y1", rowY[i]).attr("y2", rowY[i])
    .attr("stroke", seriesColors[i]).attr("stroke-width", 1.3);
  lg.append("text").attr("x", 69).attr("y", rowY[i]).attr("dy", "0.35em")
    .attr("font-family", font).attr("font-size", 16).attr("fill", "#000").text(name);
});
</script>
</body></html>
